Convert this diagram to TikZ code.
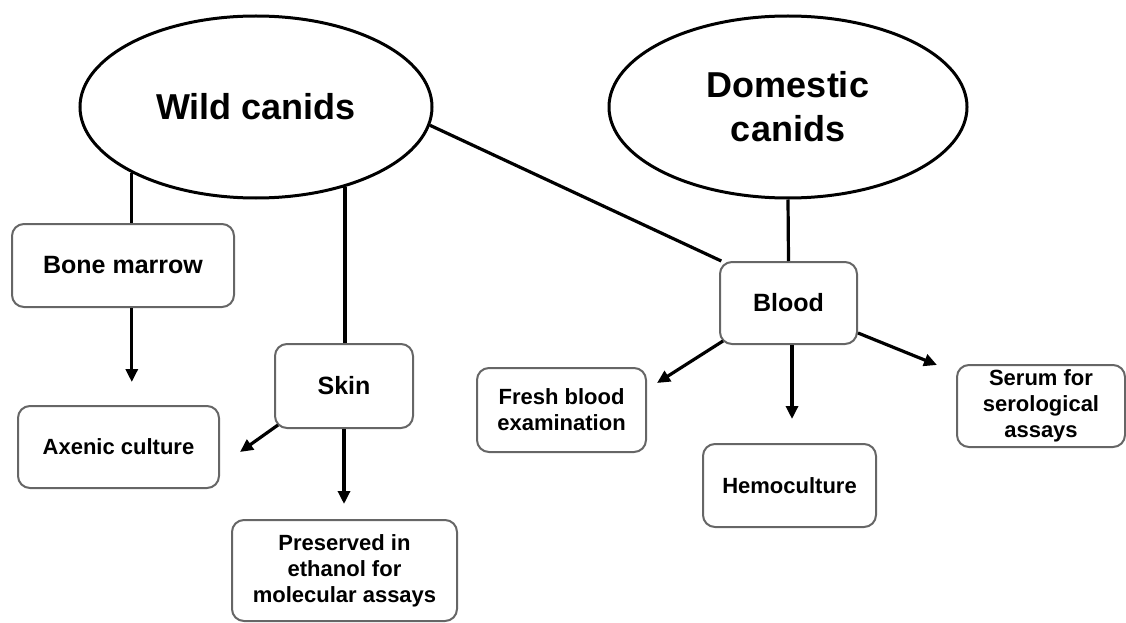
\documentclass[tikz,border=0pt]{standalone}
\usepackage{fontspec}
\setmainfont{Liberation Sans}
\usetikzlibrary{shapes.geometric,arrows.meta}
\begin{document}
\begin{tikzpicture}[x=1pt,y=-1pt,
  oval/.style={ellipse,draw,line width=3pt,inner sep=0pt,align=center,
    font=\bfseries\fontsize{36}{44}\selectfont},
  box/.style={draw=black!60,line width=2pt,rounded corners=12pt,align=center,inner sep=0pt},
  mid/.style={box,font=\bfseries\fontsize{25}{30}\selectfont},
  leaf/.style={box,font=\bfseries\fontsize{22}{26}\selectfont},
  link/.style={line width=3.2pt},
  arr/.style={link,-{Triangle[length=13pt,width=12pt]}}]
\useasboundingbox (0,0) rectangle (1126,623);
% ellipses
\node[oval,minimum width=352pt,minimum height=182pt] (wild) at (256,107) {Wild canids};
\node[oval,minimum width=358pt,minimum height=182pt] (dom) at (788,107) {Domestic\\canids};
% boxes
\node[mid,minimum width=222pt,minimum height=83pt] (bm) at (123,265.5) {Bone marrow};
\node[leaf,minimum width=201pt,minimum height=82pt] (ax) at (118.5,447) {Axenic culture};
\node[mid,minimum width=138pt,minimum height=84pt] (skin) at (344,386) {Skin};
\node[leaf,minimum width=225pt,minimum height=101pt] (pres) at (344.5,570.5) {Preserved in\\ethanol for\\molecular assays};
\node[mid,minimum width=137pt,minimum height=82pt] (blood) at (788.5,303) {Blood};
\node[leaf,minimum width=169pt,minimum height=84pt] (fresh) at (561.5,410) {Fresh blood\\examination};
\node[leaf,minimum width=173pt,minimum height=83pt] (hemo) at (789.5,485.5) {Hemoculture};
\node[leaf,minimum width=168pt,minimum height=82pt] (serum) at (1041,406) {Serum for\\serological\\assays};
% free arrow ends
\coordinate (axtip) at (240,452);
\coordinate (freshtip) at (657,383);
\coordinate (serumtip) at (937,365);
% connectors
\draw[link] (wild.208) -- (wild.208 |- bm.north);
\draw[arr,shorten >=23pt] (bm.south -| wild.208) -- (ax.north -| wild.208);
\draw[link] (wild.-42) -- (wild.-42 |- skin.north);
\draw[link] (wild.-6) -- (blood.148);
\draw[link] (dom.south) -- (blood.north);
\draw[arr,shorten >=15pt] (skin.south) -- (skin.south |- pres.north);
\draw[arr] ([shift={(4,-4)}]skin.south west) -- (axtip);
\draw[arr] ([shift={(4,-4)}]blood.south west) -- (freshtip);
\draw[arr] ([shift={(0,-12)}]blood.south east) -- (serumtip);
\draw[arr,shorten >=24pt] ([xshift=3.5pt]blood.south) -- ([xshift=3.5pt]blood.south |- hemo.north);
\end{tikzpicture}
\end{document}
